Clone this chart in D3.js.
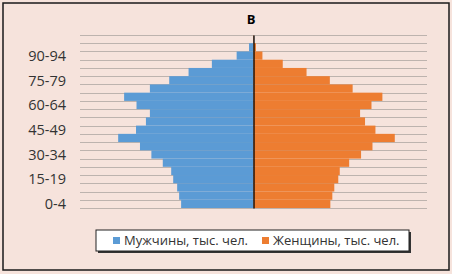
<!DOCTYPE html>
<html>
<head>
<meta charset="utf-8">
<script src="https://cdn.jsdelivr.net/npm/d3@7"></script>
<style>
  body { margin: 0; background: #fff; }
  svg { display: block; }
</style>
</head>
<body>
<svg id="chart" width="452" height="274"></svg>
<script>
// Возрастные группы (снизу вверх)
const grupos = ["0-4", "5-9", "10-14", "15-19", "20-24", "25-29", "30-34", "35-39",
    "40-44", "45-49", "50-54", "55-59", "60-64", "65-69", "70-74", "75-79",
    "80-84", "85-89", "90-94", "95-99", "100+"];

// Мужчины и женщины, тыс. чел. (оценка по картинке)
const hombres = [146, 150, 154, 162, 166, 183, 206, 229, 273, 237, 217, 209, 236, 261, 209, 170, 131, 84, 34, 9, 1];
const mujeres = [155, 159, 163, 171, 174, 193, 217, 240, 285, 246, 225, 215, 238, 260, 200, 154, 107, 59, 18, 5, 1];

// Подписи оси (каждая третья группа)
const etiquetas = ["0-4", "15-19", "30-34", "45-49", "60-64", "75-79", "90-94"];

const series = ["Мужчины, тыс. чел.", "Женщины, тыс. чел."];
const colores = ["#5b9bd5", "#ed7d31"];
const limite = 350;

const svg = d3.select("#chart");
const width = 452, height = 274;
const margin = { top: 35, right: 25, bottom: 66, left: 80 };

// Фон и рамка
svg.append("rect")
    .attr("x", 0).attr("y", 0)
    .attr("width", width).attr("height", height)
    .attr("fill", "#f6e3dc");
svg.append("rect")
    .attr("x", 3).attr("y", 3)
    .attr("width", width - 6).attr("height", height - 7)
    .attr("fill", "none")
    .attr("stroke", "#1a1a1a")
    .attr("stroke-width", 1.5);

const x = d3.scaleLinear()
    .domain([-limite, limite])
    .range([margin.left, width - margin.right]);

const y = d3.scaleBand()
    .domain(grupos.slice().reverse())
    .range([margin.top, height - margin.bottom])
    .padding(0);

// Сетка
const bordes = grupos.map(g => y(g)).concat([height - margin.bottom]);
svg.append("g")
    .selectAll("line")
    .data(bordes)
    .join("line")
    .attr("x1", margin.left).attr("x2", width - margin.right)
    .attr("y1", d => Math.round(d) + 0.5).attr("y2", d => Math.round(d) + 0.5)
    .attr("stroke", "#bdb3ae")
    .attr("stroke-width", 1);

// Столбики
svg.append("g")
    .selectAll("rect")
    .data(grupos)
    .join("rect")
    .attr("x", (d, i) => x(-hombres[i]))
    .attr("y", d => y(d))
    .attr("width", (d, i) => x(0) - x(-hombres[i]))
    .attr("height", y.bandwidth())
    .attr("fill", colores[0]);

svg.append("g")
    .selectAll("rect")
    .data(grupos)
    .join("rect")
    .attr("x", x(0))
    .attr("y", d => y(d))
    .attr("width", (d, i) => x(mujeres[i]) - x(0))
    .attr("height", y.bandwidth())
    .attr("fill", colores[1]);

// Ось категорий (в нуле)
const eje = svg.append("g")
    .attr("transform", `translate(${x(0)},0)`)
    .call(d3.axisLeft(y).tickSize(0).tickFormat(""));
eje.select(".domain").attr("stroke", "#000").attr("stroke-width", 1.3);

// Подписи групп
svg.append("g")
    .selectAll("text")
    .data(etiquetas)
    .join("text")
    .attr("x", 66)
    .attr("y", d => y(d) + y.bandwidth() / 2)
    .attr("dy", "0.36em")
    .attr("text-anchor", "end")
    .style("font-family", "'Open Sans', sans-serif")
    .style("font-size", "14.5px")
    .style("fill", "#333")
    .text(d => d);

// Заголовок
svg.append("text")
    .attr("x", 251)
    .attr("y", 24)
    .attr("text-anchor", "middle")
    .style("font-family", "'Open Sans', sans-serif")
    .style("font-size", "13px")
    .style("font-weight", "bold")
    .style("fill", "#000")
    .text("В");

// Легенда
const ley = svg.append("g");
ley.append("rect")
    .attr("x", 98).attr("y", 232)
    .attr("width", 313).attr("height", 21)
    .attr("fill", "#333");
ley.append("rect")
    .attr("x", 96).attr("y", 230)
    .attr("width", 313).attr("height", 21)
    .attr("fill", "#fff")
    .attr("stroke", "#222")
    .attr("stroke-width", 1);

const posLey = [113, 262];
series.forEach((s, i) => {
    ley.append("rect")
        .attr("x", posLey[i]).attr("y", 237)
        .attr("width", 7).attr("height", 7)
        .attr("fill", colores[i]);
    ley.append("text")
        .attr("x", posLey[i] + 11)
        .attr("y", 240.5)
        .attr("dy", "0.36em")
        .style("font-family", "'Open Sans', sans-serif")
        .style("font-size", "13px")
        .style("fill", "#333")
        .text(s);
});
</script>
</body>
</html>
